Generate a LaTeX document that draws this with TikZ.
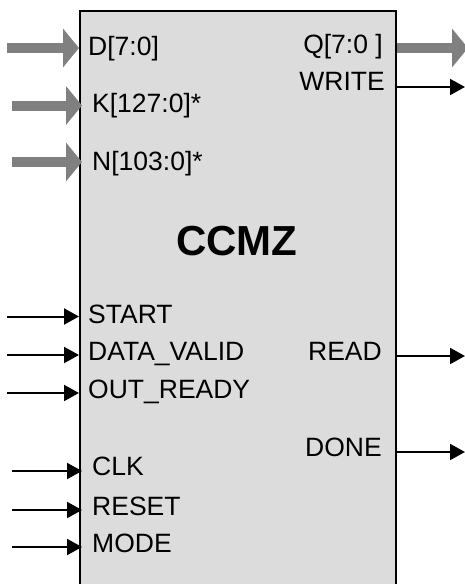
\documentclass[tikz,border=0pt]{standalone}
\usepackage{fontspec}
\setmainfont{Liberation Sans}
\usetikzlibrary{arrows.meta}
\definecolor{boxfill}{HTML}{DCDCDC}
\definecolor{busgray}{HTML}{808080}
\begin{document}
\begin{tikzpicture}[x=1pt,y=-1pt,
  portlabel/.style={inner sep=0pt,font=\fontsize{26.5}{30}\selectfont},
  busarrow/.style={draw=busgray,line width=10pt,-{Triangle[length=16pt,width=38pt]},color=busgray},
  sigarrow/.style={draw=black,line width=2pt,-{Triangle[length=15pt,width=16pt]}}]
\useasboundingbox (0,0) rectangle (465,584);
\clip (0,0) rectangle (465,584);
\node[draw=black,line width=2pt,fill=boxfill,minimum width=316pt,minimum height=600pt,inner sep=0pt,anchor=north west] (box) at (79,10) {};
% labels
\node[portlabel,anchor=base west] (lD) at (88,55) {D[7:0]};
\node[portlabel,anchor=base west] (lK) at (92,112) {K[127:0]*};
\node[portlabel,anchor=base west] (lN) at (92,170) {N[103:0]*};
\node[portlabel,anchor=base east] (lQ) at (383,53) {Q[7:0 ]};
\node[portlabel,anchor=base east] (lW) at (385,90) {WRITE};
\node[inner sep=0pt,anchor=base,font=\bfseries\fontsize{42}{48}\selectfont] (title) at (237,255) {CCMZ};
\node[portlabel,anchor=base west] (lS) at (88,323) {START};
\node[portlabel,anchor=base west] (lDV) at (88,360) {DATA\_VALID};
\node[portlabel,anchor=base west] (lOR) at (88,398) {OUT\_READY};
\node[portlabel,anchor=base west] (lC) at (92,475) {CLK};
\node[portlabel,anchor=base west] (lR) at (92,515) {RESET};
\node[portlabel,anchor=base west] (lM) at (92,552) {MODE};
\node[portlabel,anchor=base east] (lRD) at (382,360) {READ};
\node[portlabel,anchor=base east] (lDN) at (382,456) {DONE};
% coordinates
\coordinate (sD) at (7,48);
\coordinate (sK) at (12,105.5);
\coordinate (sN) at (12,162);
\coordinate (eQ) at (468,48);
\coordinate (eW) at (465,87);
\coordinate (sS) at (7,316.5);
\coordinate (sDV) at (7,355);
\coordinate (sOR) at (7,393);
\coordinate (sC) at (12,471);
\coordinate (sR) at (12,510);
\coordinate (sM) at (12,547);
\coordinate (eRD) at (465,356);
\coordinate (eDN) at (465,452);
% bus arrows
\draw[busarrow] (sD) -- (box.west |- sD);
\draw[busarrow] (sK) -- ([xshift=3pt]box.west |- sK);
\draw[busarrow] (sN) -- ([xshift=3pt]box.west |- sN);
\draw[busarrow] (box.east |- eQ) -- (eQ);
% signal arrows
\draw[sigarrow] (box.east |- eW) -- (eW);
\draw[sigarrow] (sS) -- (box.west |- sS);
\draw[sigarrow] (sDV) -- (box.west |- sDV);
\draw[sigarrow] (sOR) -- (box.west |- sOR);
\draw[sigarrow] (sC) -- ([xshift=3pt]box.west |- sC);
\draw[sigarrow] (sR) -- ([xshift=3pt]box.west |- sR);
\draw[sigarrow] (sM) -- ([xshift=3pt]box.west |- sM);
\draw[sigarrow] (box.east |- eRD) -- (eRD);
\draw[sigarrow] (box.east |- eDN) -- (eDN);
\end{tikzpicture}
\end{document}
